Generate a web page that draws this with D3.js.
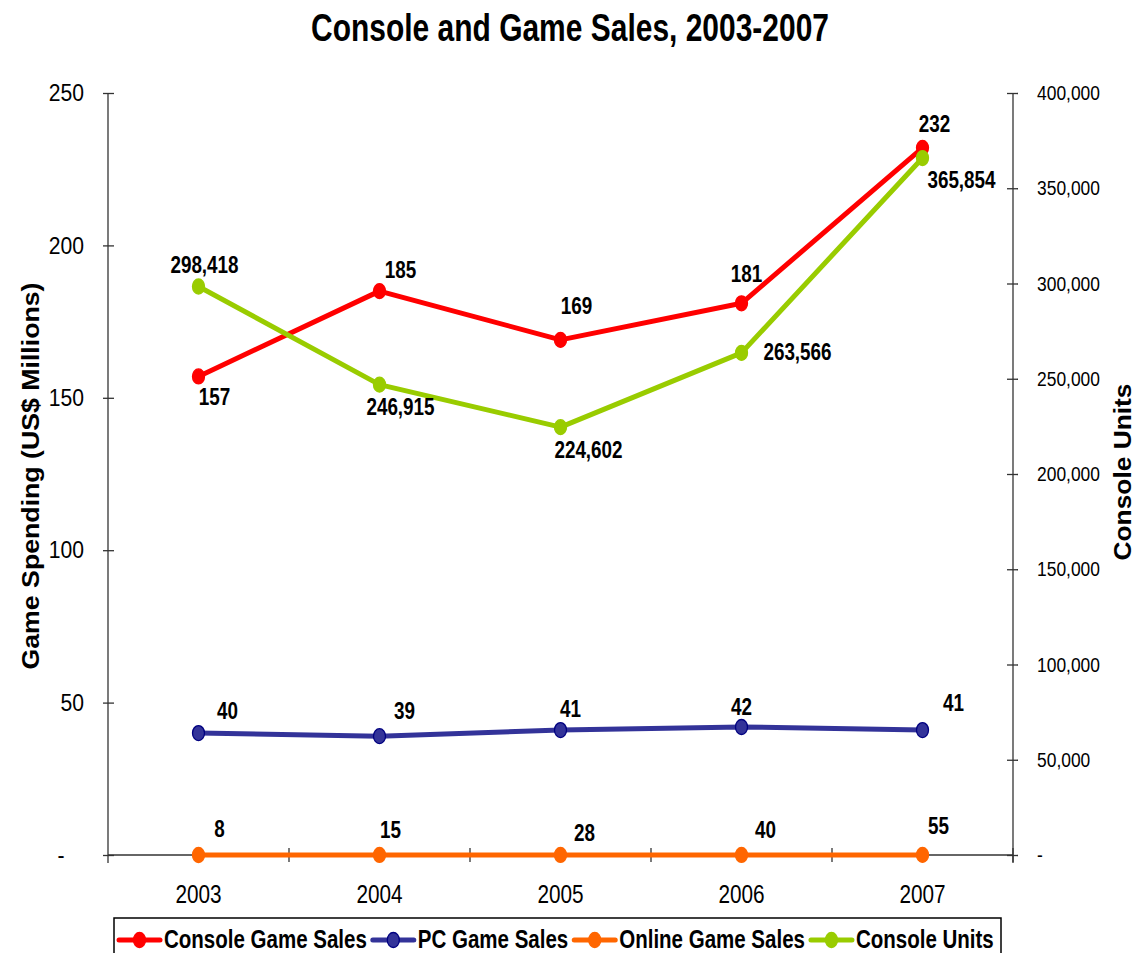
<!DOCTYPE html>
<html>
<head>
<meta charset="utf-8">
<script src="https://cdn.jsdelivr.net/npm/d3@7/dist/d3.min.js"></script>
<style>
  html, body { margin: 0; padding: 0; background: #fff; }
  svg { display: block; font-family: "Liberation Sans", Arial, sans-serif; }
</style>
</head>
<body>
<svg id="chart" width="1139" height="953"></svg>
<script>
// ---- data ----
const years = ["2003", "2004", "2005", "2006", "2007"];
const consoleGameSales = [157, 185, 169, 181, 232];
const pcGameSales = [40, 39, 41, 42, 41];
const onlineGameSales = [8, 15, 28, 40, 55];
const consoleUnits = [298418, 246915, 224602, 263566, 365854];
const leftTicks = [0, 50, 100, 150, 200, 250];
const rightTicks = [0, 50000, 100000, 150000, 200000, 250000, 300000, 350000, 400000];

// data-label nudges (px from each point), per series
const redLabelNudge = [[16, 20], [21, -21], [16, -34], [5, -30], [12, -24]];
const blueLabelNudge = [[29, -22], [25, -25], [10, -21], [0, -20], [31, -27]];
const orangeLabelNudge = [[21, -26], [11, -25], [24, -22], [24, -25], [16, -29]];
const greenLabelNudge = [[6, -22], [21, 22], [28, 23], [56, -1], [39, 22]];

const svg = d3.select("#chart");

// horizontal squeeze of a text run
function squeeze(sel, k) {
  sel.each(function () {
    const len = this.getComputedTextLength();
    d3.select(this).attr("textLength", len * k).attr("lengthAdjust", "spacingAndGlyphs");
  });
}
function fitTo(sel, w) {
  sel.attr("textLength", w).attr("lengthAdjust", "spacingAndGlyphs");
}

// ---- scales ----
const plotLeft = 108, plotRight = 1013, plotTop = 93, plotBottom = 855;
const x = d3.scaleBand().domain(years).range([plotLeft, plotRight]).padding(0);
const cx = d => x(d) + x.bandwidth() / 2;
const yL = d3.scaleLinear().domain([0, 250]).range([plotBottom, plotTop]);
const yR = d3.scaleLinear().domain([0, 400000]).range([plotBottom, plotTop]);

// ---- title ----
const title = svg.append("text")
  .attr("x", 570).attr("y", 41)
  .attr("text-anchor", "middle")
  .attr("font-size", 38).attr("font-weight", "bold")
  .attr("fill", "#000")
  .text("Console and Game Sales, 2003-2007");
fitTo(title, 518);

// ---- axes ----
const axisColor = "#333";

const gL = svg.append("g").attr("transform", `translate(${plotLeft},0)`)
  .call(d3.axisLeft(yL).tickValues(leftTicks).tickSize(5).tickPadding(19)
    .tickFormat(d => d === 0 ? "-" : d));
gL.select(".domain").attr("stroke", axisColor).attr("stroke-width", 1.3)
  .attr("d", `M0,${plotTop}V${plotBottom + 8}`);
gL.selectAll(".tick line").attr("x1", -5).attr("x2", 6).attr("stroke", axisColor).attr("stroke-width", 1.3);
gL.selectAll(".tick text").attr("font-size", 24).attr("fill", "#000")
  .attr("font-family", "Liberation Sans, Arial, sans-serif");
gL.selectAll(".tick text").filter(d => d === 0)
  .attr("text-anchor", "middle").attr("x", -47);
squeeze(gL.selectAll(".tick text"), 0.88);

const gR = svg.append("g").attr("transform", `translate(${plotRight},0)`)
  .call(d3.axisRight(yR).tickValues(rightTicks).tickSize(5).tickPadding(19)
    .tickFormat(d => d === 0 ? "-" : d3.format(",")(d)));
gR.select(".domain").attr("stroke", axisColor).attr("stroke-width", 1.3)
  .attr("d", `M0,${plotTop}V${plotBottom + 8}`);
gR.selectAll(".tick line").attr("x1", -6).attr("x2", 5).attr("stroke", axisColor).attr("stroke-width", 1.3);
gR.selectAll(".tick text").attr("font-size", 20.5).attr("fill", "#000")
  .attr("font-family", "Liberation Sans, Arial, sans-serif");
squeeze(gR.selectAll(".tick text"), 0.85);

const gX = svg.append("g").attr("transform", `translate(0,${plotBottom})`)
  .call(d3.axisBottom(x).tickSize(0).tickPadding(0));
gX.select(".domain").attr("stroke", axisColor).attr("stroke-width", 1.3)
  .attr("d", `M${plotLeft},0H${plotRight}`);
gX.selectAll(".tick text").attr("y", 48).attr("dy", 0)
  .attr("font-size", 25).attr("fill", "#000")
  .attr("font-family", "Liberation Sans, Arial, sans-serif");
squeeze(gX.selectAll(".tick text"), 0.83);
// category boundary ticks
gX.selectAll("line.bound")
  .data(years.slice(1).concat(["end"]))
  .join("line")
  .attr("class", "bound")
  .attr("x1", d => d === "end" ? plotRight : x(d))
  .attr("x2", d => d === "end" ? plotRight : x(d))
  .attr("y1", -7).attr("y2", 7)
  .attr("stroke", axisColor).attr("stroke-width", 1.3);

// ---- axis titles ----
const tL = svg.append("text")
  .attr("transform", "translate(39,476) rotate(-90)")
  .attr("text-anchor", "middle")
  .attr("font-size", 24).attr("font-weight", "bold")
  .text("Game Spending (US$ Millions)");
fitTo(tL, 387);
const tR = svg.append("text")
  .attr("transform", "translate(1131,472) rotate(-90)")
  .attr("text-anchor", "middle")
  .attr("font-size", 24).attr("font-weight", "bold")
  .text("Console Units");
fitTo(tR, 177);

// ---- series ----
const series = [
  { name: "Console Game Sales", values: consoleGameSales, y: yL, color: "#FF0000", fill: "#FF0000", stroke: "#FF0000", fmt: d3.format(","), nudge: redLabelNudge },
  { name: "PC Game Sales", values: pcGameSales, y: yL, color: "#333399", fill: "#333399", stroke: "#000080", fmt: d3.format(","), nudge: blueLabelNudge },
  { name: "Online Game Sales", values: onlineGameSales, y: yR, color: "#FF6600", fill: "#FF6600", stroke: "#FF6600", fmt: d3.format(","), nudge: orangeLabelNudge },
  { name: "Console Units", values: consoleUnits, y: yR, color: "#99CC00", fill: "#99CC00", stroke: "#99CC00", fmt: d3.format(","), nudge: greenLabelNudge }
];

const line = d3.line();
series.forEach(s => {
  const pts = s.values.map((v, i) => [cx(years[i]), s.y(v)]);
  const g = svg.append("g");
  g.append("path")
    .attr("d", line(pts))
    .attr("fill", "none")
    .attr("stroke", s.color)
    .attr("stroke-width", 5)
    .attr("stroke-linejoin", "round");
  g.selectAll("ellipse")
    .data(pts)
    .join("ellipse")
    .attr("cx", d => d[0]).attr("cy", d => d[1])
    .attr("rx", 6).attr("ry", 7.5)
    .attr("fill", s.fill)
    .attr("stroke", s.stroke).attr("stroke-width", 1.3);
});

// data labels drawn on top of all lines
series.forEach(s => {
  const lbl = svg.append("g").selectAll("text")
    .data(s.values)
    .join("text")
    .attr("x", (v, i) => cx(years[i]) + s.nudge[i][0])
    .attr("y", (v, i) => s.y(v) + s.nudge[i][1])
    .attr("dy", "0.36em")
    .attr("text-anchor", "middle")
    .attr("font-size", 23).attr("font-weight", "bold")
    .attr("fill", "#000")
    .text(v => s.fmt(v));
  squeeze(lbl, 0.82);
});

// ---- legend ----
const legend = svg.append("g");
legend.append("rect")
  .attr("x", 114).attr("y", 918)
  .attr("width", 887).attr("height", 45)
  .attr("fill", "#fff").attr("stroke", "#000").attr("stroke-width", 1.5);

let lx = 119;
series.forEach(s => {
  const item = legend.append("g");
  item.append("line")
    .attr("x1", lx).attr("x2", lx + 41)
    .attr("y1", 940).attr("y2", 940)
    .attr("stroke", s.color).attr("stroke-width", 5).attr("stroke-linecap", "round");
  item.append("ellipse")
    .attr("cx", lx + 20.5).attr("cy", 940)
    .attr("rx", 6).attr("ry", 7.5)
    .attr("fill", s.fill).attr("stroke", s.stroke).attr("stroke-width", 1.3);
  const t = item.append("text")
    .attr("x", lx + 45).attr("y", 948)
    .attr("font-size", 25).attr("font-weight", "bold")
    .attr("fill", "#000")
    .text(s.name);
  squeeze(t, 0.82);
  lx = lx + 45 + (+t.attr("textLength")) + 6;
});
</script>
</body>
</html>
